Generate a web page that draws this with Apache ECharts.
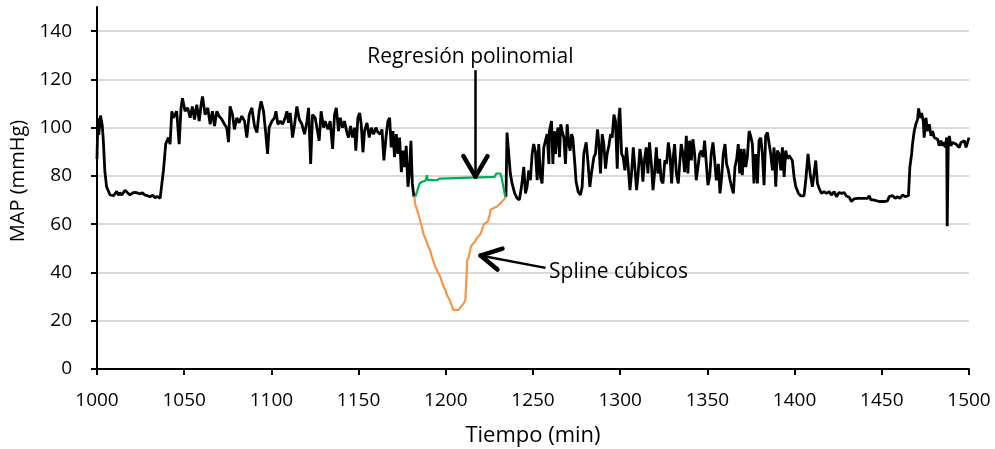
<!DOCTYPE html>
<html>
<head>
<meta charset="utf-8">
<script src="https://cdn.jsdelivr.net/npm/echarts@6/dist/echarts.min.js"></script>
<style>
html,body{margin:0;padding:0;background:#fff;}
#chart{width:995px;height:449px;}
</style>
</head>
<body>
<div id="chart"></div>
<script>
// ---- data (time in min, MAP in mmHg) ----
const xMin = 1000, xMax = 1500, xStep = 50;
const yMin = 0, yMax = 150, yStep = 20;
const xTickLabels = [1000,1050,1100,1150,1200,1250,1300,1350,1400,1450,1500];
const yTickLabels = [0,20,40,60,80,100,120,140];

const recordedA = [[1000,87],[1000.5,104],[1001,97],[1002,105],[1003,101],[1003.6,95],[1004.5,82],[1005.5,75.5],[1007.5,72.1],[1009.5,71.8],[1011.3,73.6],[1012.5,72],[1013,73],[1014.2,72.1],[1016.1,74.1],[1017.5,73],[1018.9,72.1],[1020.5,73],[1021.8,73.2],[1023,73],[1024.7,72.5],[1026,73],[1027.6,72],[1029,71.8],[1030.4,71.4],[1032,72],[1033.3,70.9],[1034.5,71.5],[1036.2,70.7],[1037.1,71.4],[1038.1,82.3],[1039.4,93.2],[1040.9,95.9],[1041.9,93.2],[1042.9,106.8],[1043.8,104.1],[1045.7,106.8],[1047.1,93.2],[1048.2,108.2],[1049,112.2],[1050.5,106.8],[1052,108.2],[1053.4,104.1],[1054.7,108.8],[1055.9,103.4],[1057.2,109.5],[1058.6,102.7],[1059.7,109.5],[1060.5,112.9],[1062,105.4],[1063.5,108.2],[1064.9,101.4],[1066.2,106.8],[1067.4,100.7],[1068.7,106.8],[1070,104.8],[1071.6,103.4],[1073.1,101.4],[1074.4,100],[1075.4,94],[1076.3,108.8],[1077.7,105.4],[1078.8,99.3],[1080.2,104.1],[1081.5,102],[1083,104.8],[1084.6,102.7],[1085.9,95.9],[1087.3,105.4],[1088.8,108.2],[1090.3,100.7],[1091.7,98],[1093,106.8],[1094.1,110.9],[1095.5,106.8],[1096.8,97.3],[1097.8,89.1],[1098.7,100],[1100.3,102.7],[1101.8,104.1],[1102.6,106.8],[1103.7,101.4],[1105.1,102.7],[1106.4,101.4],[1107.9,104.1],[1108.9,106.8],[1109.8,102],[1110.8,106.1],[1112.1,95.9],[1113.3,101.4],[1114.6,108.8],[1116,103.4],[1117.5,101.4],[1119,97.3],[1120.4,102.7],[1121.3,108.2],[1122.5,85],[1123.6,105.4],[1125.1,104.1]];
const recordedB = [[1126.1,104.8],[1127.4,94.6],[1128.5,106.8],[1129.9,100],[1130.8,102.7],[1132.4,99.3],[1133.7,102.7],[1135.1,91.2],[1136.2,105.4],[1137.2,108.2],[1138.5,98.6],[1139.5,104.1],[1140.8,100],[1141.9,102.7],[1143.3,98],[1144.2,95.9],[1145.4,100.7],[1146.5,95.9],[1147.7,100],[1148.4,90.5],[1149.6,104.1],[1150.6,106.1],[1151.5,101.4],[1152.5,89.8],[1153.4,98.6],[1154.8,102],[1156.1,95.9],[1157.3,100],[1158.6,97.3],[1159.9,100],[1161.1,98],[1162.4,97.3],[1163.4,99.3],[1164.5,86.4],[1165.7,95.9],[1166.8,102.7],[1167.8,104.1],[1168.7,91.8],[1169.7,98.6],[1170.6,87.8],[1171.6,97.3],[1172.6,89.1],[1173.5,95.9],[1174.5,81.6],[1175.4,90.5],[1176.4,83.7],[1177.3,92.5],[1178.3,75.5],[1179.1,81],[1180,94.6],[1180.8,76.9],[1181.7,71.4]];
const recordedC = [[1234.5,71.4],[1235.1,98],[1236.1,89.1],[1237,81],[1238,76.9],[1239.5,72.8],[1240.9,70.7],[1242.2,70.1],[1243.4,75.5],[1244.7,83.7],[1245.7,72.8],[1246.6,75.5],[1247.6,82.3],[1248.5,78.2],[1249.5,89.1],[1250.4,93.2],[1251.4,90],[1252.4,78.2],[1253.3,93.2],[1254.3,79.6],[1255.2,76.9],[1256.2,91.8],[1257.1,92.5],[1258.1,97.3],[1259.1,85],[1259.4,98.6],[1260.6,102.7],[1261.4,85],[1262.1,98.6],[1262.9,89.1],[1263.6,97.3],[1264.4,100],[1265.2,87.8],[1265.9,101.4],[1266.7,98.6],[1267.7,95.9],[1268.6,85],[1269.6,101.4],[1270.5,93.2],[1271.3,90.5],[1272.1,97.3],[1272.8,95.9],[1274,85],[1274.7,77.6],[1275.9,73.5],[1277.2,72.1],[1278.2,75.5],[1279.1,89.1],[1280.5,93.9],[1281.6,85],[1282.6,75.5],[1283.5,81],[1284.9,87.8],[1285.8,89.1],[1287,99.3],[1287.8,93.2],[1288.7,81],[1289.7,97.3],[1290.6,93.2],[1291.6,83],[1292.5,89.1],[1293.5,92.5],[1294.5,97.3],[1295.4,95.9],[1296.4,105.4],[1297.3,102.7],[1298.3,83],[1299.2,104.1],[1299.8,108.2],[1300.8,89.1],[1301.7,87.8],[1302.7,82.3],[1303.6,91.8],[1304.6,83.7],[1305.6,74.1],[1306.5,81],[1307.5,91.8],[1308.4,83.7],[1309.4,74.1],[1310.3,81],[1311.3,91.2],[1312.2,86.4],[1313,77.6],[1314,87.1],[1314.9,91.8],[1315.9,81],[1316.8,93.9],[1318,83.7],[1318.8,74.1],[1319.7,81],[1320.7,91.8],[1321.6,81],[1322.6,87.1],[1323.5,78.2],[1324.5,76.9],[1325.6,86.4],[1326.6,85],[1327.6,93.9],[1328.5,89.1],[1329.5,76.9],[1330.2,86.4],[1331.2,93.2],[1332.2,81],[1333.3,76.9],[1334.1,85],[1335,93.2],[1336,89.1],[1336.9,81.6],[1337.9,96.6],[1338.8,81],[1339.8,94.6],[1340.8,86.4],[1341.7,95.2],[1342.7,89.1],[1343.6,78.2],[1344.6,83.7],[1345.5,89.1],[1346.5,90.5],[1347.5,87.8],[1348.4,94.6],[1349.4,85],[1350.3,76.2],[1351.3,79.6],[1352.2,89.1],[1353.2,93.9],[1354.2,86.4],[1355.1,78.2],[1356.3,85],[1357.2,72.8],[1358.2,79.6],[1359.1,89.1],[1360.1,93.2],[1361,85],[1362,82.3],[1363,78.2],[1363.9,75.5],[1364.9,72.8],[1365.8,83.7],[1366.8,87.1],[1367.7,93.2],[1368.5,81],[1369.1,91.2],[1370,80.3],[1371,91.2],[1372,83.7],[1372.9,87.8],[1373.9,98.6],[1374.8,96.6],[1375.8,93.2],[1376.7,76.9],[1377.7,89.1]];
const recordedD = [[1378.7,76.9],[1379.6,94.6],[1380.6,95.9],[1381.5,89.1],[1382.5,76.2],[1383.4,96.6],[1384.4,98],[1385.4,98.6],[1386.3,89.1],[1387.3,82.3],[1388.2,91.8],[1389.2,75.5],[1390.1,90.5],[1391.1,89.1],[1392.1,82.3],[1393,91.8],[1394,79.6],[1394.9,90.5],[1395.9,87.1],[1396.8,88.4],[1397.8,87.8],[1398.7,86.4],[1399.7,79.6],[1400.7,75.5],[1402.2,72.8],[1403.5,71.7],[1405.4,71.7],[1406.4,78.2],[1407.7,89.1],[1408.9,81],[1410.2,75.5],[1411.2,81],[1412.1,86.4],[1413.1,76.9],[1414.1,74.8],[1415.4,72.8],[1416.9,73.5],[1418.3,72.8],[1419.8,73.5],[1421.1,72.1],[1422.7,73.5],[1424,71.4],[1425.5,73.1],[1427.1,72.8],[1428.4,73.1],[1429.7,71.7],[1431.3,71.2],[1432.6,69.4],[1434.1,70.5],[1436.1,70.7],[1438.9,70.7],[1441.8,70.7],[1442.8,71.8],[1443.7,70.1],[1445.1,70.1],[1446.2,69.4],[1448.5,69.4],[1451.4,69.4],[1453.3,69.7],[1454.2,71.4],[1456.2,71.8],[1457.7,70.7],[1459,71.4],[1460.4,70.7],[1461.9,72.1],[1463.4,71.4],[1465.3,71.8],[1466.1,83.7],[1467.1,89.1],[1467.6,93.2],[1468.6,98.6],[1469.5,101.4],[1470.5,103.4],[1471.1,108],[1472,104.1],[1472.8,106.1],[1473.8,102.7],[1474.3,95.9],[1475.3,104.1],[1476.2,98.6],[1477.2,101.4],[1478.2,96.6],[1479.1,98.6],[1480.1,95.9],[1481,96.6],[1482,95.2],[1482.9,92.5],[1483.9,94.6],[1484.9,92.5],[1485.8,93.9],[1486.4,91.8],[1487.2,95.9],[1487.5,59.2],[1488.1,91.8],[1488.7,96.6],[1489.6,92.5],[1490.6,93.9],[1491.6,94.6],[1492.5,93.2],[1493.5,93.9],[1494.4,91.8],[1495.4,93.9],[1496.3,93.2],[1497.3,94.6],[1498.3,91.8],[1499.2,92.5],[1500,95.9]];

const polyFit = [[1182.5,71.4],[1183.5,73.5],[1185,76.9],[1186.4,77.6],[1188.3,78],[1189.2,80.3],[1189.6,78.2],[1191.1,78.4],[1195,78.2],[1196.3,78.9],[1197.3,79.6],[1227.9,79.6],[1229,81],[1231.3,81],[1231.9,79.6],[1234.2,71]];
const cubicSpline = [[1182,71.4],[1182.5,68],[1183.5,66],[1184.4,63.9],[1185.4,61.2],[1186.4,58.5],[1187.3,55.8],[1188.3,55.1],[1189.2,52.4],[1190.2,50.3],[1191.1,49],[1192.1,46.3],[1193.1,44.2],[1194,42.2],[1195,40.8],[1195.9,39.5],[1196.9,38.1],[1197.8,36.1],[1198.8,34],[1199.8,32.7],[1200.7,30.6],[1201.7,29.3],[1202.6,27.9],[1203.6,25.9],[1204.2,24.5],[1205.5,24.5],[1207.4,24.5],[1208.7,25.9],[1210.3,27.2],[1211.2,28.6],[1211.8,36.7],[1212.2,44.9],[1213.1,46.3],[1214.1,46.9],[1214.5,51],[1215.6,51.7],[1217,53.1],[1217.9,54.4],[1218.9,55.1],[1219.8,55.8],[1220.8,57.8],[1221.8,59.9],[1222.7,60.5],[1224.1,61.2],[1225.2,63.9],[1225.6,66],[1226.5,66],[1227.5,66.7],[1228.5,66.7],[1229.4,67.3],[1230.4,68],[1231.3,68.7],[1232.3,69.4],[1233.2,70.1],[1234.2,71]];

// annotations (data coords)
const polyLabel = {text:'Regresión polinomial', at:[1214.1,129.1]};
const polyShaft = [[1217,123.8],[1217,80.5]];
const polyHead = [[1210.1,88.2],[1217,79.75],[1223.9,88.2]];
const splineLabel = {text:'Spline cúbicos', at:[1258.9,40.3]};
const splineShaft = [[1257.2,41.9],[1220.5,46.9]];
const splineHead = [[1232.5,49.9],[1219.9,47],[1229.6,41.2]];

const recorded = [].concat(recordedA, recordedB, [[1208,'-']], recordedC, recordedD);

const FONT = '"Open Sans", sans-serif';
const headStyle = {color:'#000', width:4.5, type:'solid', cap:'round', join:'round'};
function segment(a, b, style){ return [{coord:a, lineStyle:style}, {coord:b}]; }

const chart = echarts.init(document.getElementById('chart'), null, {renderer:'canvas'});
chart.setOption({
  animation:false,
  backgroundColor:'#fff',
  grid:{left:97, right:26, top:7, bottom:80, containLabel:false, outerBoundsMode:'none'},
  xAxis:{
    type:'value', min:xMin, max:xMax, interval:xStep,
    name:'Tiempo (min)', nameLocation:'middle', nameGap:56,
    nameTextStyle:{fontFamily:FONT, fontSize:22, color:'#000'},
    axisLine:{show:true, onZero:false, lineStyle:{color:'#000', width:2}},
    axisTick:{show:true, length:6, lineStyle:{color:'#000', width:2}},
    axisLabel:{fontFamily:FONT, fontSize:19, color:'#000', margin:22,
      formatter:v => xTickLabels.indexOf(v) >= 0 ? String(v) : ''},
    splitLine:{show:false}
  },
  yAxis:{
    type:'value', min:yMin, max:yMax, interval:yStep,
    name:'MAP (mmHg)', nameLocation:'middle', nameGap:61, nameRotate:90,
    nameTextStyle:{fontFamily:FONT, fontSize:20, color:'#000', padding:[0,0,0,14]},
    axisLine:{show:true, lineStyle:{color:'#000', width:2}},
    axisTick:{show:true, length:6, lineStyle:{color:'#000', width:2}, customValues:yTickLabels},
    axisLabel:{fontFamily:FONT, fontSize:19, color:'#000', margin:25,
      customValues:yTickLabels, formatter:v => String(v)},
    splitLine:{show:true, lineStyle:{color:'#d9d9d9', width:2}}
  },
  series:[
    {
      type:'line', data:recorded, showSymbol:false, connectNulls:false,
      lineStyle:{color:'#000', width:2.8}, itemStyle:{color:'#000'}, z:3,
      markLine:{
        silent:true, symbol:'none',
        lineStyle:{color:'#000', width:2.5, type:'solid'},
        label:{show:false},
        data:[
          segment(polyShaft[0], polyShaft[1]),
          segment(polyHead[0], polyHead[1], headStyle),
          segment(polyHead[2], polyHead[1], headStyle),
          segment(splineShaft[0], splineShaft[1]),
          segment(splineHead[0], splineHead[1], headStyle),
          segment(splineHead[2], splineHead[1], headStyle)
        ]
      },
      markPoint:{
        silent:true, symbol:'circle', symbolSize:1, itemStyle:{color:'rgba(0,0,0,0)'},
        data:[
          {coord:polyLabel.at, label:{show:true, formatter:polyLabel.text, position:'inside', fontFamily:FONT, fontSize:21, color:'#000'}},
          {coord:splineLabel.at, label:{show:true, formatter:splineLabel.text, position:'right', distance:0, fontFamily:FONT, fontSize:21, color:'#000'}}
        ]
      }
    },
    {
      type:'line', data:polyFit, showSymbol:false,
      lineStyle:{color:'#00b050', width:2.2}, itemStyle:{color:'#00b050'}, z:4
    },
    {
      type:'line', data:cubicSpline, showSymbol:false,
      lineStyle:{color:'#f79646', width:2.2}, itemStyle:{color:'#f79646'}, z:4
    }
  ]
});
</script>
</body>
</html>
